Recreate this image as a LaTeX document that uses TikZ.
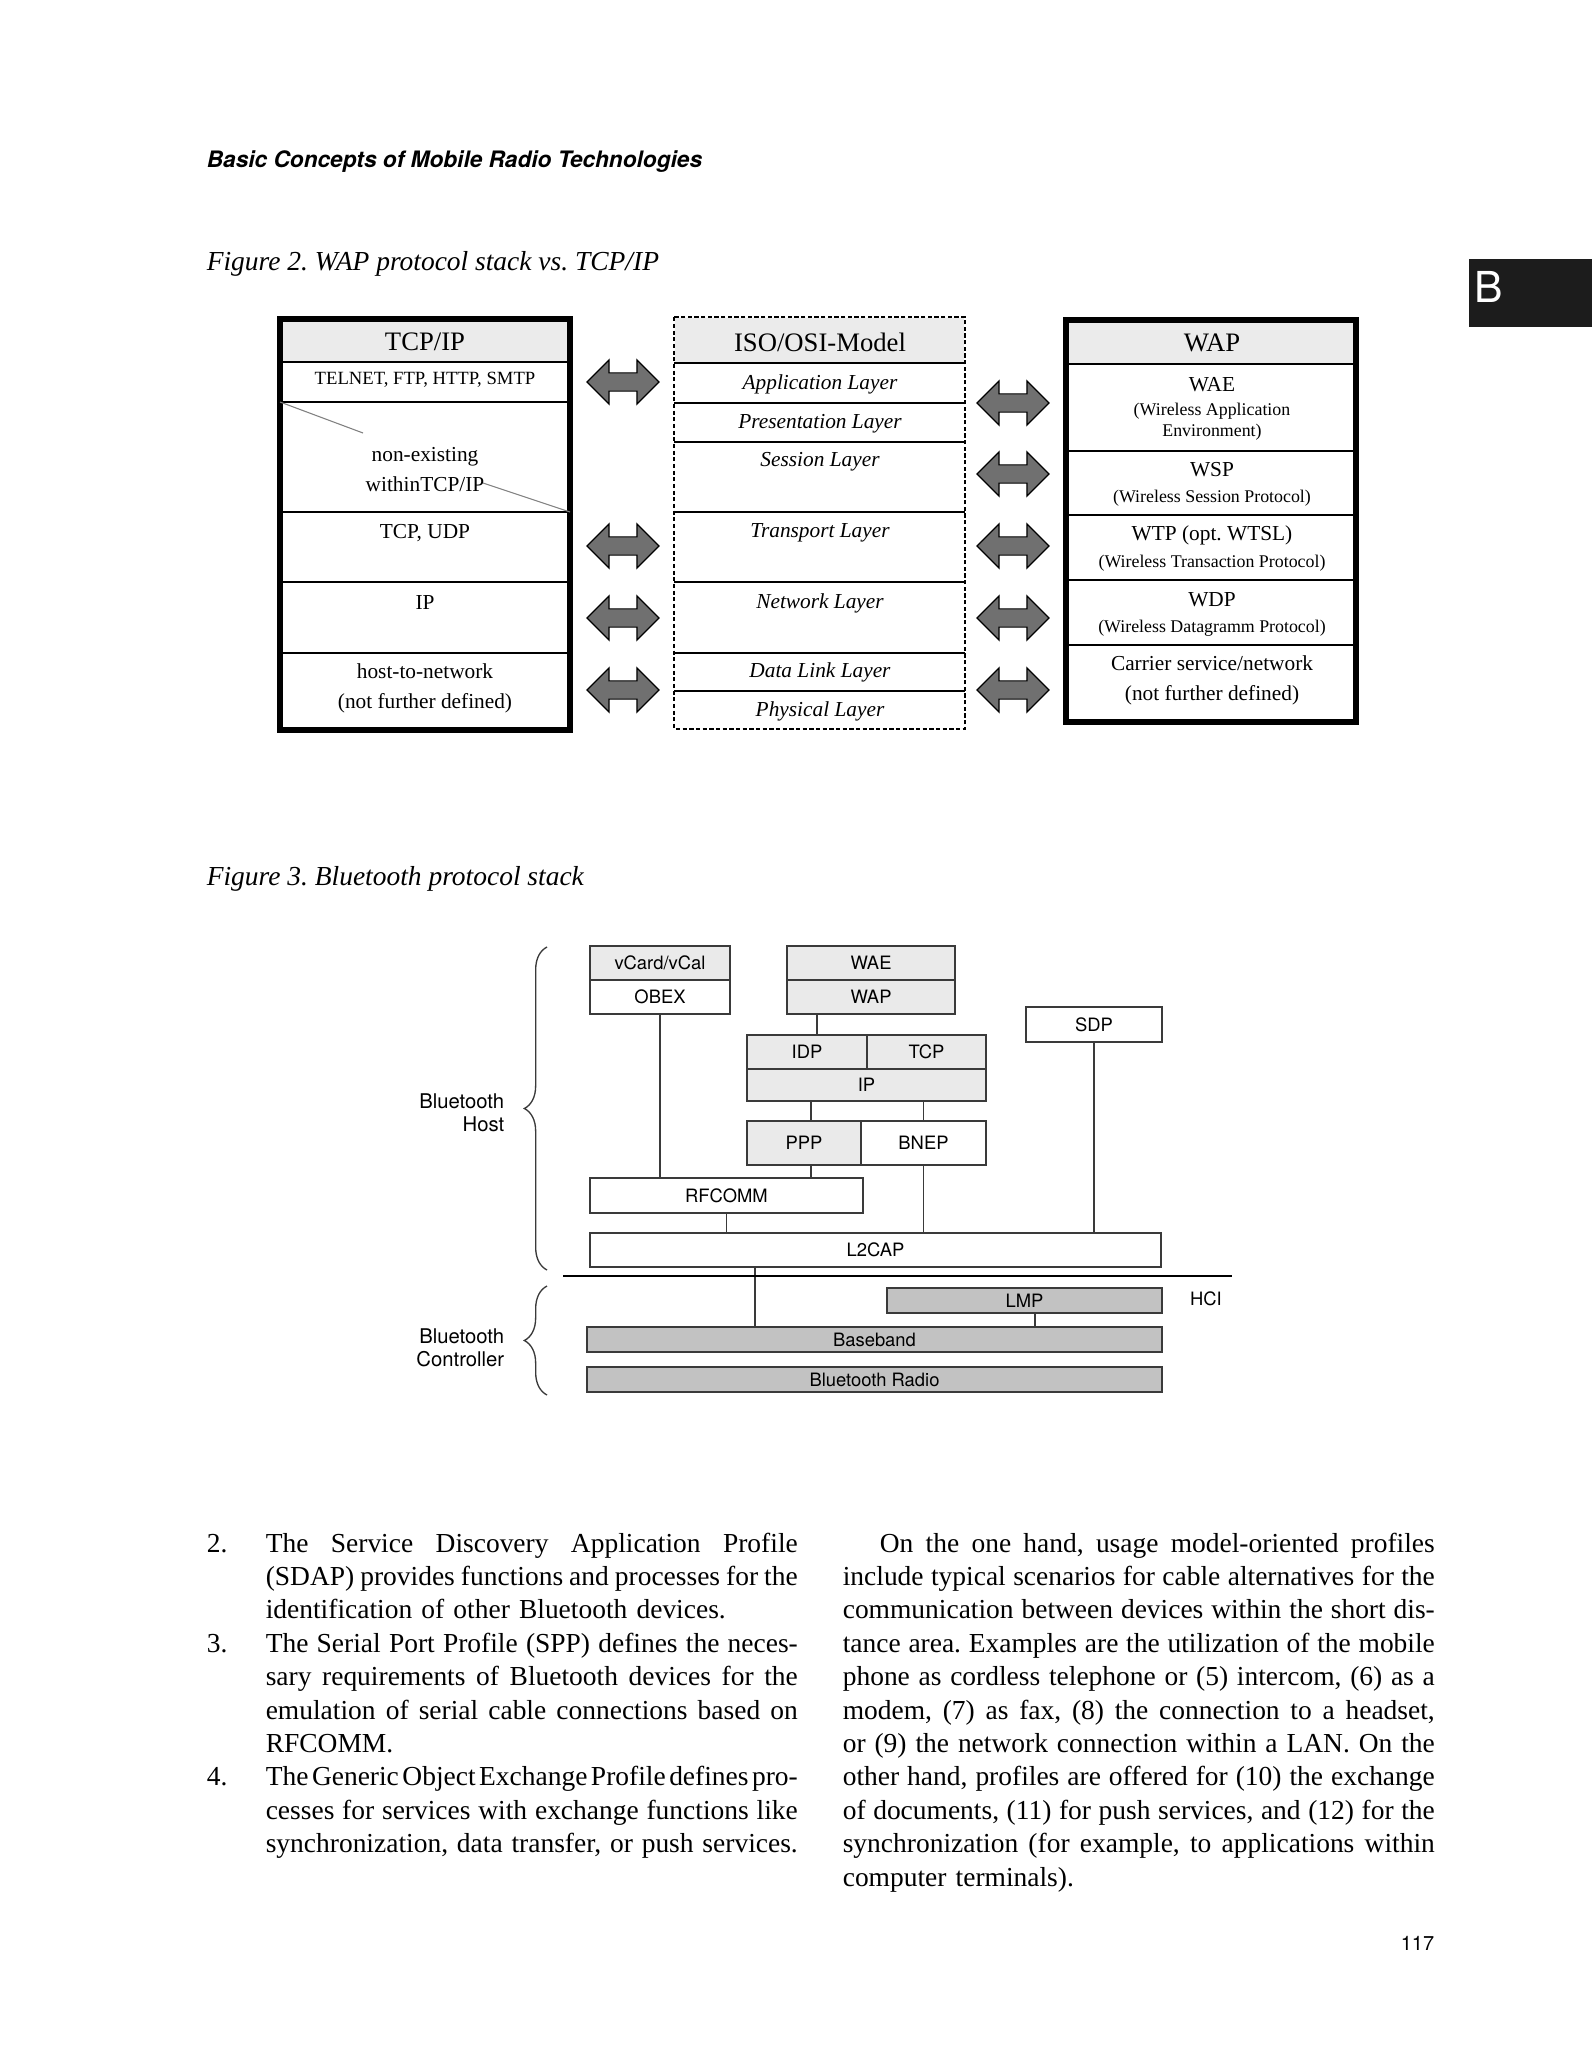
\documentclass[tikz,border=0pt]{standalone}
\usepackage{fontspec}
\setmainfont{Liberation Serif}
\newfontfamily\helv{TeX Gyre Heros}
\usetikzlibrary{fit,shapes.arrows,decorations.pathreplacing}
\frenchspacing

\definecolor{headgray}{HTML}{EBEBEB}
\definecolor{hostgray}{HTML}{EAEAEA}
\definecolor{ctrlgray}{HTML}{C2C2C2}
\definecolor{arrowgray}{HTML}{707070}
\definecolor{boxline}{HTML}{3A3A3A}
\definecolor{tabblack}{HTML}{1C1C1C}

% justified line of running text
\newcommand\jl[2][199.5pt]{\makebox[#1][s]{\spaceskip=0.25em plus 0.4em minus 0.12em\relax #2}}
\newcommand\jlt[2][199.5pt]{\makebox[#1][s]{\spaceskip=0.06em plus 0.3em\relax #2}}

\tikzset{
  cell/.style={draw, line width=0.6pt, inner sep=0pt, outer sep=0pt},
  stackhead/.style={font=\fontsize{10}{12}\selectfont},
  stackmain/.style={font=\fontsize{8}{11.25}\selectfont, align=center},
  stacksmall/.style={font=\fontsize{6.7}{7.9}\selectfont, align=center},
  stacktel/.style={font=\fontsize{7}{8.4}\selectfont},
  osilabel/.style={font=\fontsize{8}{9.6}\selectfont\itshape},
  swap/.style={double arrow, draw=black, fill=arrowgray, line width=0.45pt,
    minimum height=27pt, inner xsep=0pt, inner ysep=3.2pt,
    double arrow head extend=4.85pt},
  btbox/.style={draw=boxline, line width=0.55pt, inner sep=0pt, outer sep=0pt},
  btlbl/.style={inner sep=0pt, font=\helv\fontsize{6.9}{8}\selectfont},
  btlink/.style={draw=boxline, line width=0.5pt},
  sidelabel/.style={font=\helv\fontsize{7.6}{8.6}\selectfont, align=right, anchor=east, inner sep=0pt},
  bodytext/.style={font=\fontsize{10.3}{12.53}\selectfont, align=left, inner sep=0pt, anchor=base west},
}

\begin{document}
\begin{tikzpicture}[x=0.375pt,y=-0.375pt,line width=0.6pt]
\useasboundingbox[fill=white] (0,0) rectangle (1592,2048);

% ---------- running head and tab ----------
\node[anchor=base west, inner sep=0pt, font=\helv\bfseries\itshape\fontsize{8.5}{10}\selectfont]
  (runhead) at (206,168) {Basic Concepts of Mobile Radio Technologies};
\node[fill=tabblack, inner sep=0pt, fit={(1469,259) (1592,327)}] (tab) {};
\node[text=white, inner sep=0pt, font=\helv\fontsize{16}{18}\selectfont] (tabB) at (1489,287) {B};

% ---------- Figure 2 ----------
\node[anchor=base west, inner sep=0pt, font=\fontsize{10.3}{12}\selectfont\itshape]
  (cap2) at (206,270) {Figure 2. WAP protocol stack vs. TCP/IP};

% TCP/IP stack
\node[cell, fill=headgray, fit={(280,319) (570,362)}] (tcphead) {};
\node[cell, fit={(280,362) (570,402)}] (tcpapp) {};
\node[cell, fit={(280,402) (570,512)}] (tcpnone) {};
\node[cell, fit={(280,512) (570,582)}] (tcptrans) {};
\node[cell, fit={(280,582) (570,653)}] (tcpnet) {};
\node[cell, fit={(280,653) (570,730)}] (tcphost) {};
\draw[line width=1.9pt] (tcphead.north west) rectangle (tcphost.south east);
\coordinate (slashA) at (363,433);
\coordinate (slashB) at (483,483);
\draw[gray, line width=0.4pt] (tcpnone.north west) -- (slashA);
\draw[gray, line width=0.4pt] (slashB) -- (tcpnone.south east);
\node[stackhead] (tcpt) at (425,342) {TCP/IP};
\node[stacktel] (telt) at (425,380) {TELNET, FTP, HTTP, SMTP};
\node[stackmain] (nonet) at (425,470) {non-existing\\withinTCP/IP};
\node[stackmain] (tcput) at (425,533) {TCP, UDP};
\node[stackmain] (ipt) at (425,603) {IP};
\node[stackmain] (hostt) at (425,688) {host-to-network\\(not further defined)};

% ISO/OSI model
\node[inner sep=0pt, fill=headgray, fit={(675,318) (964,362)}] (osihead) {};
\node[inner sep=0pt, fit={(675,362) (964,402)}] (osiapp) {};
\node[inner sep=0pt, fit={(675,402) (964,441)}] (osipres) {};
\node[inner sep=0pt, fit={(675,441) (964,511)}] (osisess) {};
\node[inner sep=0pt, fit={(675,511) (964,581)}] (ositrans) {};
\node[inner sep=0pt, fit={(675,581) (964,652)}] (osinet) {};
\node[inner sep=0pt, fit={(675,652) (964,690)}] (osidl) {};
\node[inner sep=0pt, fit={(675,690) (964,728)}] (osiphys) {};
\foreach \r in {osihead,osiapp,osipres,osisess,ositrans,osinet,osidl}
  \draw (\r.south west) -- (\r.south east);
\draw[dash pattern=on 1.6pt off 0.9pt] (osihead.north west) rectangle (osiphys.south east);
\node[stackhead] (osit) at (820,342) {ISO/OSI-Model};
\node[osilabel] (appt) at (820,384) {Application Layer};
\node[osilabel] (prest) at (820,424) {Presentation Layer};
\node[osilabel] (sesst) at (820,462) {Session Layer};
\node[osilabel] (transt) at (820,533) {Transport Layer};
\node[osilabel] (nett) at (820,603) {Network Layer};
\node[osilabel] (dlt) at (820,672) {Data Link Layer};
\node[osilabel] (physt) at (820,711) {Physical Layer};

% WAP stack
\node[cell, fill=headgray, fit={(1066,320) (1356,364)}] (waphead) {};
\node[cell, fit={(1066,364) (1356,451)}] (wapwae) {};
\node[cell, fit={(1066,451) (1356,515)}] (wapwsp) {};
\node[cell, fit={(1066,515) (1356,580)}] (wapwtp) {};
\node[cell, fit={(1066,580) (1356,645)}] (wapwdp) {};
\node[cell, fit={(1066,645) (1356,722)}] (wapcar) {};
\draw[line width=1.9pt] (waphead.north west) rectangle (wapcar.south east);
\node[stackhead] (wapt) at (1212,343) {WAP};
\node[stackmain] (waet) at (1212,385) {WAE};
\node[stacksmall] (waes) at (1212,422) {(Wireless Application\\Environment)};
\node[stackmain] (wspt) at (1212,470) {WSP};
\node[stacksmall] (wsps) at (1212,498) {(Wireless Session Protocol)};
\node[stackmain] (wtpt) at (1212,535) {WTP (opt. WTSL)};
\node[stacksmall] (wtps) at (1212,563) {(Wireless Transaction Protocol)};
\node[stackmain] (wdpt) at (1212,600) {WDP};
\node[stacksmall] (wdps) at (1212,628) {(Wireless Datagramm Protocol)};
\node[stackmain] (cart) at (1212,680) {Carrier service/network\\(not further defined)};

% correspondence arrows
\foreach \y [count=\i] in {382,546,618,690}
  \node[swap] (arrL\i) at (623,\y) {};
\foreach \y [count=\i] in {403,474,546,618,690}
  \node[swap] (arrR\i) at (1013,\y) {};

% ---------- Figure 3 ----------
\node[anchor=base west, inner sep=0pt, font=\fontsize{10.3}{12}\selectfont\itshape]
  (cap3) at (206,885) {Figure 3. Bluetooth protocol stack};

% host layers
\node[btbox, fill=hostgray, fit={(590,946) (730,980)}] (vcard) {};
\node[btbox, fill=white, fit={(590,980) (730,1014)}] (obex) {};
\node[btbox, fill=hostgray, fit={(787,946) (955,980)}] (wae) {};
\node[btbox, fill=hostgray, fit={(787,980) (955,1014)}] (wapb) {};
\node[btbox, fill=white, fit={(1026,1007) (1162,1042)}] (sdp) {};
\node[btbox, fill=hostgray, fit={(747,1035) (867,1069)}] (idp) {};
\node[btbox, fill=hostgray, fit={(867,1035) (986,1069)}] (tcp) {};
\node[btbox, fill=hostgray, fit={(747,1069) (986,1101)}] (ip) {};
\node[btbox, fill=hostgray, fit={(747,1121) (861,1165)}] (ppp) {};
\node[btbox, fill=white, fit={(861,1121) (986,1165)}] (bnep) {};
\node[btbox, fill=white, fit={(590,1178) (863,1213)}] (rfcomm) {};
\node[btbox, fill=white, fit={(590,1233) (1161,1267)}] (l2cap) {};

% controller layers
\node[btbox, fill=ctrlgray, fit={(887,1288) (1162,1313)}] (lmp) {};
\node[btbox, fill=ctrlgray, fit={(587,1327) (1162,1352)}] (baseband) {};
\node[btbox, fill=ctrlgray, fit={(587,1367) (1162,1392)}] (radio) {};

% layer names
\foreach \n/\t in {vcard/vCard\slash vCal, obex/OBEX, wae/WAE, wapb/WAP, sdp/SDP,
    idp/IDP, tcp/TCP, ip/IP, ppp/PPP, bnep/BNEP, rfcomm/RFCOMM, l2cap/L2CAP,
    lmp/LMP, baseband/Baseband, radio/Bluetooth Radio}
  \node[btlbl] (\n t) at (\n.center) {\t};

% links between layers
\coordinate (wapdrop) at (817,1014);
\coordinate (pppdrop) at (811,1101);
\coordinate (l2drop) at (755,1267);
\coordinate (lmpdrop) at (1035,1313);
\draw[btlink] (obex.south) -- (obex.south |- rfcomm.north);
\draw[btlink] (wapdrop) -- (wapdrop |- idp.north);
\draw[btlink] (pppdrop) -- (pppdrop |- ppp.north);
\draw[btlink] (pppdrop |- ppp.south) -- (pppdrop |- rfcomm.north);
\draw[btlink] (bnep.north |- ip.south) -- (bnep.north);
\draw[btlink] (bnep.south) -- (bnep.south |- l2cap.north);
\draw[btlink] (rfcomm.south) -- (rfcomm.south |- l2cap.north);
\draw[btlink] (sdp.south) -- (sdp.south |- l2cap.north);
\draw[btlink] (l2drop) -- (l2drop |- baseband.north);
\draw[btlink] (lmpdrop) -- (lmpdrop |- baseband.north);

% host controller interface
\coordinate (hciL) at (563,1276);
\coordinate (hciR) at (1232,1276);
\draw[line width=1.1pt] (hciL) -- (hciR);
\node[btlbl] (hci) at (1206,1299) {HCI};

% braces and side labels
\draw[boxline, line width=0.5pt, decorate, decoration={brace, amplitude=8.5pt}]
  (547,1270) -- (547,947);
\draw[boxline, line width=0.5pt, decorate, decoration={brace, amplitude=8.5pt}]
  (547,1395) -- (547,1286);
\node[sidelabel] (hostlbl) at (505,1113) {Bluetooth\\Host};
\node[sidelabel] (ctrllbl) at (505,1348) {Bluetooth\\Controller};

% ---------- running text ----------
\node[bodytext] (num2) at (206,1552) {2.};
\node[bodytext] (num3) at (206,1652.2) {3.};
\node[bodytext] (num4) at (206,1785.8) {4.};
\node[bodytext, text width=199.5pt] (leftcol) at (265,1552) {%
\jl{The Service Discovery Application Profile}\\
\jl{(SDAP) provides functions and processes for the}\\
identification of other Bluetooth devices.\\
\jl{The Serial Port Profile (SPP) defines the neces-}\\
\jl{sary requirements of Bluetooth devices for the}\\
\jl{emulation of serial cable connections based on}\\
RFCOMM.\\
\jlt{The Generic Object Exchange Profile defines pro-}\\
\jl{cesses for services with exchange functions like}\\
\jl{synchronization, data transfer, or push services.}};
\node[bodytext, text width=222pt] (rightcol) at (842,1552) {%
\jl[222pt]{\hspace*{13.9pt}On the one hand, usage model-oriented profiles}\\
\jl[222pt]{include typical scenarios for cable alternatives for the}\\
\jl[222pt]{communication between devices within the short dis-}\\
\jl[222pt]{tance area. Examples are the utilization of the mobile}\\
\jl[222pt]{phone as cordless telephone or (5) intercom, (6) as a}\\
\jl[222pt]{modem, (7) as fax, (8) the connection to a headset,}\\
\jl[222pt]{or (9) the network connection within a LAN. On the}\\
\jl[222pt]{other hand, profiles are offered for (10) the exchange}\\
\jl[222pt]{of documents, (11) for push services, and (12) for the}\\
\jl[222pt]{synchronization (for example, to applications within}\\
computer terminals).};

% page number
\node[anchor=base west, inner sep=0pt, font=\helv\fontsize{7.5}{9}\selectfont] (pageno) at (1400,1950) {117};
\end{tikzpicture}
\end{document}
